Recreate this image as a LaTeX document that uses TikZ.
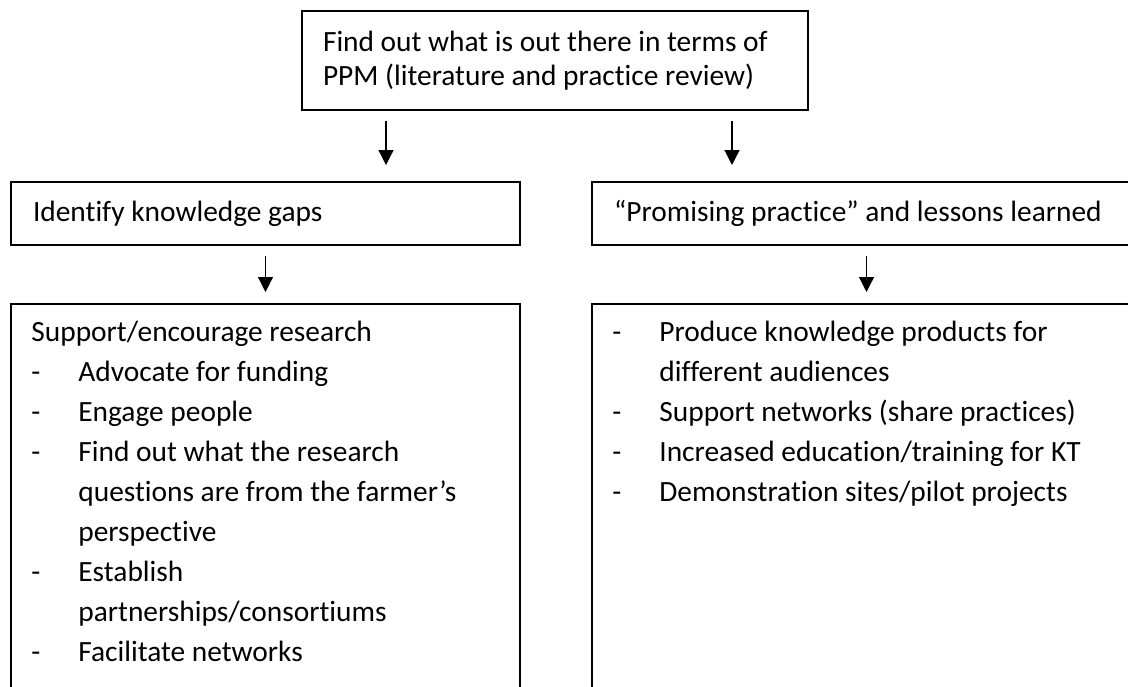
\documentclass[tikz,border=0pt]{standalone}
\usepackage{fontspec}
\setmainfont{Carlito}[Ligatures = {TeX, NoCommon}]
\usetikzlibrary{arrows.meta}

% dash in front of a list entry, and the indent of its follow-on lines
\newcommand{\dashitem}{\makebox[23.5pt][l]{-}}
\newcommand{\contitem}{\makebox[23.5pt]{}}

\begin{document}
\begin{tikzpicture}[
        x = 0.5pt, y = -0.5pt,
        stepbox/.style = {draw, line width = 1pt, anchor = north west, inner xsep = 10.5pt, inner ysep = 0pt, align = flush left, font = \fontsize{14.7pt}{17pt}\selectfont},
        listtext/.style = {anchor = north west, inner sep = 0pt, align = left, font = \fontsize{14.7pt}{20pt}\selectfont},
        flow/.style = {-{Triangle[length = 7.5pt, width = 7.5pt]}, line width = 0.6pt}
    ]
    \useasboundingbox (0,0) rectangle (1128,686);
    \clip (0,0) rectangle (1128,686);

    % boxes
    \node[stepbox, text width = 232pt, minimum height = 49.75pt] (review) at (301,9.5) {Find out what is out there in terms of\\PPM (literature and practice review)};
    \node[stepbox, inner xsep = 11pt, text width = 232.5pt, minimum height = 31.5pt] (gaps) at (10,181) {Identify knowledge gaps};
    \node[stepbox, inner xsep = 11pt, text width = 252.5pt, minimum height = 31.5pt] (lessons) at (591,181) {“Promising practice” and lessons learned};
    \node[stepbox, minimum width = 254.5pt, minimum height = 200pt] (research) at (10,303) {};
    \node[stepbox, minimum width = 274.5pt, minimum height = 200pt] (products) at (591,303) {};

    % lists inside the lower boxes
    \node[listtext] (researchlist) at (31,321) {Support/encourage research\\
        \dashitem Advocate for funding\\
        \dashitem Engage people\\
        \dashitem Find out what the research\\
        \contitem questions are from the farmer’s\\
        \contitem perspective\\
        \dashitem Establish\\
        \contitem partnerships/consortiums\\
        \dashitem Facilitate networks};
    \node[listtext] (productlist) at (612,321) {\dashitem Produce knowledge products for\\
        \contitem different audiences\\
        \dashitem Support networks (share practices)\\
        \dashitem Increased education/training for KT\\
        \dashitem Demonstration sites/pilot projects};

    % arrows
    \coordinate (gapsin) at ([xshift = -84.5pt]review.south);
    \coordinate (lessonsin) at ([xshift = 88.5pt]review.south);
    \draw[flow, shorten <= 5pt, shorten >= 8pt] (gapsin) -- (gapsin |- gaps.north);
    \draw[flow, shorten <= 5pt, shorten >= 8pt] (lessonsin) -- (lessonsin |- lessons.north);
    \draw[flow, shorten <= 5pt, shorten >= 5.5pt] (gaps.south) -- (research.north);
    \draw[flow, shorten <= 5pt, shorten >= 5.5pt] (lessons.south) -- (products.north);
\end{tikzpicture}
\end{document}
